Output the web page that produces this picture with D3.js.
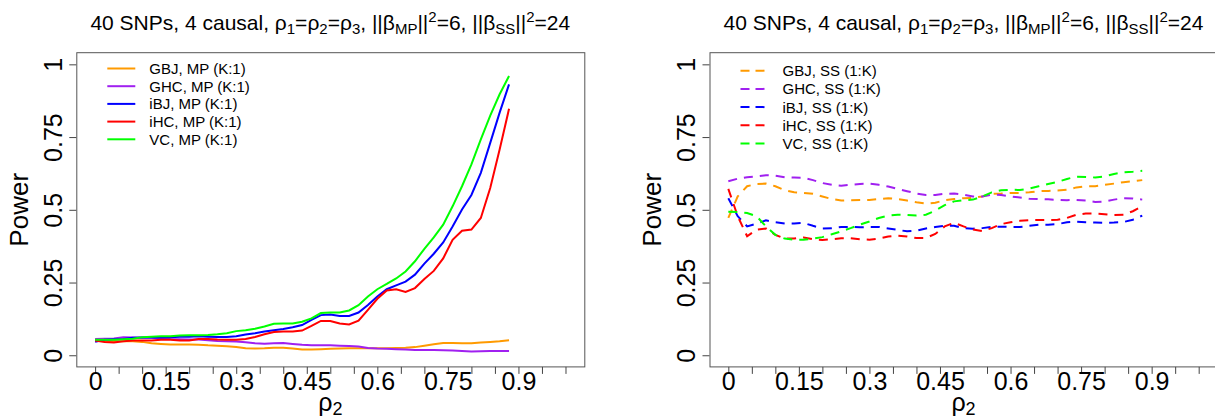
<!DOCTYPE html>
<html>
<head>
<meta charset="utf-8">
<script src="https://cdn.jsdelivr.net/npm/d3@7"></script>
<style>
  body { margin: 0; background: #fff; }
  text { font-family: "Liberation Sans", Arial, Helvetica, sans-serif; fill: #000; }
</style>
</head>
<body>
<svg id="chart" width="1215" height="417"></svg>
<script>
"use strict";

// Valeurs de rho_2 (axe des x), communes aux deux graphiques
var rho = [0, 0.02, 0.04, 0.06, 0.08, 0.10, 0.12, 0.14, 0.16, 0.18,
  0.20, 0.22, 0.24, 0.26, 0.28, 0.30, 0.32, 0.34, 0.36, 0.38,
  0.40, 0.42, 0.44, 0.46, 0.48, 0.50, 0.52, 0.54, 0.56, 0.58,
  0.60, 0.62, 0.64, 0.66, 0.68, 0.70, 0.72, 0.74, 0.76, 0.78,
  0.80, 0.82, 0.84, 0.86, 0.88];

// Graphique de gauche : MP (K:1)
var gbjMP = [0.051, 0.049, 0.049, 0.048, 0.048, 0.046, 0.041, 0.039, 0.037, 0.037,
  0.037, 0.036, 0.034, 0.033, 0.031, 0.028, 0.024, 0.023, 0.024, 0.026,
  0.026, 0.023, 0.020, 0.020, 0.021, 0.022, 0.023, 0.024, 0.024, 0.024,
  0.024, 0.024, 0.025, 0.026, 0.028, 0.033, 0.038, 0.042, 0.042, 0.041,
  0.041, 0.044, 0.046, 0.048, 0.052];
var ghcMP = [0.056, 0.057, 0.058, 0.062, 0.061, 0.060, 0.060, 0.058, 0.056, 0.055,
  0.054, 0.054, 0.052, 0.049, 0.048, 0.047, 0.045, 0.041, 0.040, 0.041,
  0.042, 0.039, 0.036, 0.034, 0.034, 0.034, 0.033, 0.032, 0.030, 0.025,
  0.023, 0.022, 0.021, 0.020, 0.018, 0.018, 0.018, 0.017, 0.016, 0.015,
  0.013, 0.014, 0.015, 0.015, 0.015];
var ibjMP = [0.046, 0.053, 0.055, 0.056, 0.060, 0.061, 0.061, 0.061, 0.062, 0.064,
  0.064, 0.065, 0.064, 0.063, 0.063, 0.065, 0.071, 0.076, 0.082, 0.086,
  0.090, 0.096, 0.104, 0.122, 0.138, 0.140, 0.135, 0.135, 0.147, 0.173,
  0.202, 0.227, 0.240, 0.253, 0.277, 0.315, 0.349, 0.388, 0.443, 0.501,
  0.551, 0.627, 0.730, 0.834, 0.931];
var ihcMP = [0.051, 0.046, 0.044, 0.048, 0.051, 0.051, 0.051, 0.053, 0.053, 0.051,
  0.051, 0.056, 0.056, 0.054, 0.053, 0.053, 0.056, 0.063, 0.072, 0.080,
  0.082, 0.082, 0.085, 0.101, 0.118, 0.118, 0.109, 0.106, 0.119, 0.156,
  0.194, 0.223, 0.227, 0.218, 0.231, 0.262, 0.290, 0.333, 0.397, 0.428,
  0.432, 0.472, 0.575, 0.707, 0.847];
var vcMP = [0.053, 0.053, 0.053, 0.055, 0.057, 0.062, 0.064, 0.065, 0.065, 0.068,
  0.069, 0.069, 0.070, 0.072, 0.076, 0.083, 0.086, 0.091, 0.099, 0.108,
  0.109, 0.109, 0.115, 0.127, 0.145, 0.147, 0.147, 0.154, 0.172, 0.202,
  0.227, 0.245, 0.264, 0.288, 0.323, 0.366, 0.405, 0.449, 0.512, 0.581,
  0.656, 0.742, 0.824, 0.897, 0.960];

// Graphique de droite : SS (1:K)
var gbjSS = [0.472, 0.546, 0.581, 0.589, 0.590, 0.581, 0.567, 0.560, 0.558, 0.555,
  0.546, 0.537, 0.532, 0.533, 0.534, 0.534, 0.537, 0.540, 0.537, 0.532,
  0.526, 0.521, 0.524, 0.533, 0.537, 0.540, 0.541, 0.546, 0.555, 0.556,
  0.558, 0.558, 0.560, 0.564, 0.565, 0.566, 0.569, 0.577, 0.581, 0.581,
  0.586, 0.590, 0.595, 0.598, 0.602];
var ghcSS = [0.598, 0.607, 0.612, 0.615, 0.619, 0.617, 0.612, 0.611, 0.610, 0.602,
  0.592, 0.586, 0.583, 0.586, 0.589, 0.590, 0.586, 0.580, 0.572, 0.564,
  0.556, 0.551, 0.551, 0.555, 0.556, 0.552, 0.546, 0.546, 0.552, 0.551,
  0.546, 0.542, 0.538, 0.537, 0.536, 0.534, 0.533, 0.534, 0.532, 0.527,
  0.528, 0.535, 0.540, 0.539, 0.535];
var ibjSS = [0.540, 0.478, 0.443, 0.452, 0.464, 0.457, 0.453, 0.453, 0.455, 0.445,
  0.436, 0.437, 0.441, 0.441, 0.440, 0.441, 0.441, 0.436, 0.431, 0.426,
  0.428, 0.436, 0.441, 0.445, 0.445, 0.437, 0.435, 0.437, 0.441, 0.442,
  0.441, 0.441, 0.445, 0.449, 0.449, 0.451, 0.457, 0.459, 0.457, 0.456,
  0.455, 0.456, 0.458, 0.466, 0.480];
var ihcSS = [0.572, 0.478, 0.409, 0.432, 0.436, 0.414, 0.401, 0.401, 0.405, 0.399,
  0.396, 0.399, 0.402, 0.402, 0.399, 0.397, 0.401, 0.408, 0.411, 0.408,
  0.403, 0.403, 0.417, 0.443, 0.455, 0.443, 0.432, 0.427, 0.437, 0.451,
  0.457, 0.462, 0.464, 0.465, 0.465, 0.466, 0.472, 0.483, 0.487, 0.487,
  0.485, 0.482, 0.483, 0.495, 0.512];
var vcSS = [0.493, 0.492, 0.489, 0.478, 0.443, 0.414, 0.401, 0.397, 0.397, 0.401,
  0.406, 0.416, 0.426, 0.437, 0.449, 0.460, 0.472, 0.480, 0.483, 0.482,
  0.480, 0.483, 0.497, 0.516, 0.529, 0.533, 0.535, 0.546, 0.560, 0.567,
  0.569, 0.568, 0.573, 0.581, 0.589, 0.596, 0.606, 0.614, 0.613, 0.611,
  0.615, 0.623, 0.629, 0.631, 0.634];

// Axes
var xTicks = [0, 0.05, 0.1, 0.15, 0.2, 0.25, 0.3, 0.35, 0.4, 0.45, 0.5,
  0.55, 0.6, 0.65, 0.7, 0.75, 0.8, 0.85, 0.9, 0.95, 1];
var xLabels = ["0", "", "", "0.15", "", "", "0.3", "", "", "0.45", "",
  "", "0.6", "", "", "0.75", "", "", "0.9", "", ""];
var yTicks = [0, 0.25, 0.5, 0.75, 1];
var yLabels = ["0", "0.25", "0.5", "0.75", "1"];

var methods = ["GBJ", "GHC", "iBJ", "iHC", "VC"];
var colors = ["#ff9a00", "#a020f0", "#0000ff", "#ff0000", "#00ff00"];

var svg = d3.select("#chart");
svg.append("rect").attr("width", 1215).attr("height", 417).attr("fill", "#fff");

var boxW = 508;
var boxTop = 52.7;
var boxBottom = 366.9;

/**
 * Dessine un des deux panneaux.
 *
 * @param left     Position x du bord gauche du cadre.
 * @param series   Les 5 séries de puissance.
 * @param suffix   Texte de la légende après le nom de la méthode.
 * @param dashed   Lignes pointillées ou non.
 */
function drawPanel(left, series, suffix, dashed) {
  var g = svg.append("g").attr("transform", "translate(" + left + ",0)");

  var x = d3.scaleLinear().domain([-0.04, 1.04]).range([0, boxW]);
  var y = d3.scaleLinear().domain([-0.04, 1.04]).range([boxBottom, boxTop]);

  // Titre avec indices et exposants
  var title = g.append("text")
    .attr("x", boxW / 2)
    .attr("y", 30)
    .attr("text-anchor", "middle")
    .style("font-size", "21px");
  var parts = [
    ["40 SNPs, 4 causal, \u03c1", 0], ["1", 1], ["=\u03c1", 0], ["2", 1], ["=\u03c1", 0], ["3", 1],
    [", ||\u03b2", 0], ["MP", 1], ["||", 0], ["2", 2], ["=6, ||\u03b2", 0], ["SS", 1], ["||", 0], ["2", 2], ["=24", 0]
  ];
  var shift = 0;
  parts.forEach(function (p) {
    var target = p[1] === 1 ? 4 : (p[1] === 2 ? -8 : 0);
    title.append("tspan")
      .attr("dy", target - shift)
      .style("font-size", p[1] === 0 ? "21px" : "15px")
      .text(p[0]);
    shift = target;
  });

  // Lignes
  var line = d3.line()
    .x(function (d) { return x(d[0]); })
    .y(function (d) { return y(d[1]); });

  series.forEach(function (s, i) {
    g.append("path")
      .datum(rho.map(function (r, j) { return [r, s[j]]; }))
      .attr("fill", "none")
      .attr("stroke", colors[i])
      .attr("stroke-width", 2)
      .attr("stroke-dasharray", dashed ? "9,7" : null)
      .attr("d", line);
  });

  // Cadre
  g.append("rect")
    .attr("x", 0.5)
    .attr("y", boxTop)
    .attr("width", boxW)
    .attr("height", boxBottom - boxTop)
    .attr("fill", "none")
    .attr("stroke", "#555");

  // Axe des x
  var xAxis = g.append("g")
    .attr("transform", "translate(0," + boxBottom + ")")
    .call(d3.axisBottom(x).tickValues(xTicks).tickSize(7).tickSizeOuter(0)
      .tickFormat(function (d, i) { return xLabels[i]; }));
  xAxis.select(".domain").remove();
  xAxis.selectAll("line").attr("stroke", "#444");
  xAxis.selectAll("text")
    .attr("y", 23)
    .attr("dy", 0)
    .attr("fill", "#000")
    .style("font-size", "25px")
    .style("font-family", "Liberation Sans, Arial, sans-serif");

  // Axe des y
  var yAxis = g.append("g")
    .call(d3.axisLeft(y).tickValues(yTicks).tickSize(7).tickSizeOuter(0)
      .tickFormat(function (d, i) { return yLabels[i]; }));
  yAxis.select(".domain").remove();
  yAxis.selectAll("line").attr("stroke", "#444");
  yAxis.selectAll("text")
    .attr("x", 0)
    .attr("dy", 0)
    .attr("text-anchor", "middle")
    .attr("transform", "translate(-14.5,0) rotate(-90)")
    .attr("fill", "#000")
    .style("font-size", "25px")
    .style("font-family", "Liberation Sans, Arial, sans-serif");

  // Titres des axes
  g.append("text")
    .attr("transform", "translate(-48.5," + ((boxTop + boxBottom) / 2) + ") rotate(-90)")
    .attr("text-anchor", "middle")
    .style("font-size", "26px")
    .text("Power");

  var xl = g.append("text")
    .attr("x", boxW / 2)
    .attr("y", 411)
    .attr("text-anchor", "middle")
    .style("font-size", "25px");
  xl.append("tspan").text("\u03c1");
  xl.append("tspan").attr("dy", 4).style("font-size", "18px").text("2");

  // Légende
  var legend = g.append("g").attr("class", "legend");
  methods.forEach(function (m, i) {
    var ly = (dashed ? 70.7 : 68.5) + i * (dashed ? 18.2 : 17.7);
    legend.append("line")
      .attr("x1", 31).attr("x2", 59)
      .attr("y1", ly).attr("y2", ly)
      .attr("stroke", colors[i])
      .attr("stroke-width", 2)
      .attr("stroke-dasharray", dashed ? "9,6" : null);
    legend.append("text")
      .attr("x", 73)
      .attr("y", ly)
      .attr("dy", "0.36em")
      .style("font-size", "15px")
      .text(m + ", " + suffix);
  });
}

drawPanel(76.3, [gbjMP, ghcMP, ibjMP, ihcMP, vcMP], "MP (K:1)", false);
drawPanel(709.5, [gbjSS, ghcSS, ibjSS, ihcSS, vcSS], "SS (1:K)", true);
</script>
</body>
</html>
